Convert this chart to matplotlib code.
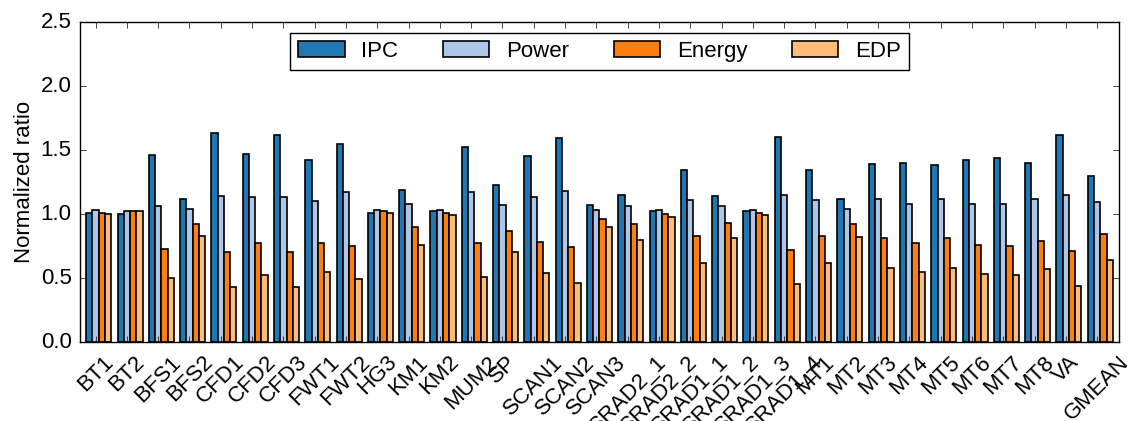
import numpy as np
import matplotlib
matplotlib.use("Agg")
from matplotlib import pyplot as plt

plt.style.use("classic")
plt.rcParams['font.family'] = ['Liberation Sans', 'DejaVu Sans']

benchmarks = ["BT1", "BT2", "BFS1", "BFS2", "CFD1", "CFD2", "CFD3", "FWT1", "FWT2",
              "HG3", "KM1", "KM2", "MUM2", "SP", "SCAN1", "SCAN2", "SCAN3",
              "SRAD2_1", "SRAD2_2", "SRAD1_1", "SRAD1_2", "SRAD1_3", "SRAD1_4",
              "MT1", "MT2", "MT3", "MT4", "MT5", "MT6", "MT7", "MT8", "VA", "GMEAN"]

ipc = [1.01, 1.00, 1.46, 1.12, 1.63, 1.47, 1.62, 1.42, 1.55, 1.01, 1.19, 1.02,
       1.52, 1.23, 1.45, 1.59, 1.07, 1.15, 1.02, 1.34, 1.14, 1.02, 1.60,
       1.34, 1.12, 1.39, 1.40, 1.38, 1.42, 1.44, 1.40, 1.62, 1.30]
power = [1.03, 1.02, 1.06, 1.04, 1.14, 1.13, 1.13, 1.10, 1.17, 1.03, 1.08, 1.03,
         1.17, 1.07, 1.13, 1.18, 1.03, 1.06, 1.03, 1.11, 1.06, 1.03, 1.15,
         1.11, 1.04, 1.12, 1.08, 1.12, 1.08, 1.08, 1.12, 1.15, 1.09]
energy = [1.01, 1.02, 0.73, 0.92, 0.70, 0.77, 0.70, 0.77, 0.75, 1.02, 0.90, 1.01,
          0.77, 0.87, 0.78, 0.74, 0.96, 0.92, 1.00, 0.83, 0.93, 1.01, 0.72,
          0.83, 0.92, 0.81, 0.77, 0.81, 0.76, 0.75, 0.79, 0.71, 0.84]
edp = [1.00, 1.02, 0.50, 0.83, 0.43, 0.52, 0.43, 0.55, 0.49, 1.01, 0.76, 0.99,
       0.51, 0.70, 0.54, 0.46, 0.90, 0.80, 0.98, 0.62, 0.81, 0.99, 0.45,
       0.62, 0.82, 0.58, 0.55, 0.58, 0.53, 0.52, 0.57, 0.44, 0.64]

series = [ipc, power, energy, edp]
names = ["IPC", "Power", "Energy", "EDP"]
colors = ["#1f77b4", "#aec7e8", "#ff7f0e", "#ffbb78"]

ind = np.arange(len(benchmarks))
width = 0.2
fs = 16

fig, ax = plt.subplots(figsize=(11.34, 4.21), dpi=100)
fig.patch.set_facecolor("white")
fig.subplots_adjust(left=0.0705, right=0.9868, bottom=0.1876, top=0.9477)

for i in range(4):
    ax.bar(ind + i*width, series[i], width, align='edge', color=colors[i],
           edgecolor='black', linewidth=1.2, label=names[i])

ax.set_xlim(-0.2, len(benchmarks))
ax.set_ylim(0, 2.5)
ax.set_yticks([0, 0.5, 1.0, 1.5, 2.0, 2.5])
ax.set_xticks(ind + 1.5*width)
ax.set_xticklabels(benchmarks, rotation=45, fontsize=fs)
ax.tick_params(axis='x', pad=7)
ax.tick_params(axis='y', labelsize=fs, pad=6)
ax.set_ylabel("Normalized ratio", fontsize=fs, labelpad=4)
ax.legend(loc='upper center', ncol=4, fontsize=fs, fancybox=False,
          handlelength=2.1, handletextpad=0.75, columnspacing=2.0, borderpad=0.35)

fig.savefig("out.png", dpi=100, facecolor="white")
